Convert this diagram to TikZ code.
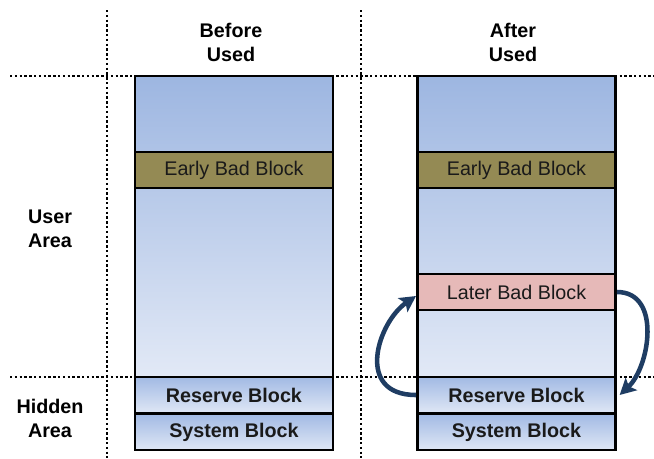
\documentclass[tikz,border=0pt]{standalone}
\usepackage{fontspec}
\setmainfont{Liberation Sans}
\usetikzlibrary{arrows.meta}

\definecolor{inkline}{HTML}{000000}
\definecolor{txt}{HTML}{1A1A1A}
\definecolor{colTop}{HTML}{9DB6E1}
\definecolor{colBot}{HTML}{E2E9F6}
\definecolor{hidTop}{HTML}{A2BAE4}
\definecolor{hidBot}{HTML}{DFE7F5}
\definecolor{earlyFill}{HTML}{948A54}
\definecolor{laterFill}{HTML}{E6B9B8}
\definecolor{arrowNavy}{HTML}{1F3D63}

\begin{document}
\begin{tikzpicture}[x=0.75pt,y=-0.75pt,
  font=\fontsize{14.8}{18}\selectfont,
  divider/.style={line width=1.9pt, dash pattern=on 1.8pt off 1.8pt, black},
  colbox/.style={draw=inkline, line width=2.2pt, inner sep=0pt,
    minimum width=148.5pt, minimum height=225.75pt,
    top color=colTop, bottom color=colBot},
  badbox/.style={draw=inkline, line width=2.2pt, inner sep=0pt,
    minimum width=148.5pt, minimum height=27pt, text=txt},
  hidbox/.style={draw=inkline, line width=2.2pt, inner sep=0pt,
    minimum width=148.5pt, minimum height=27pt, text=txt,
    top color=hidTop, bottom color=hidBot, font=\fontsize{14.8}{18}\selectfont\bfseries},
  heading/.style={align=center, text=black, font=\fontsize{14.8}{18}\selectfont\bfseries},
  remap/.style={draw=arrowNavy, line width=3.4pt,
    -{Stealth[length=12pt,width=12.5pt,inset=2.5pt]}}
]
\useasboundingbox (0,0) rectangle (654,458);

% dotted area dividers
\draw[divider] (107,10) -- (107,458);
\draw[divider] (361,10) -- (361,458);
\draw[divider] (10,76) -- (654,76);
\draw[divider] (10,377) -- (654,377);

% column headings
\node[heading] (hBefore) at (231,42) {Before\\Used};
\node[heading] (hAfter) at (513,42) {After\\Used};

% row headings
\node[heading] (hUser) at (50,229) {User\\Area};
\node[heading] (hHidden) at (50,418) {Hidden\\Area};

% before-use column
\node[colbox] (userL) at (234,226.5) {};
\node[badbox, fill=earlyFill] (earlyL) at (234,170) {Early Bad Block};
\node[hidbox] (rsvL) at (234,395) {Reserve Block};
\node[hidbox] (sysL) at (234,432) {System Block};

% after-use column
\node[colbox] (userR) at (516.5,226.5) {};
\node[badbox, fill=earlyFill] (earlyR) at (516.5,170) {Early Bad Block};
\node[badbox, fill=laterFill] (laterR) at (516.5,292) {Later Bad Block};
\node[hidbox] (rsvR) at (516.5,395) {Reserve Block};
\node[hidbox] (sysR) at (516.5,432) {System Block};

% remapping arrows
\draw[remap] (rsvR.west) .. controls +(-62,0) and +(-38,26) .. ([yshift=-3]laterR.west);
\draw[remap] (laterR.east) .. controls +(45,0) and +(30,-28) .. ([xshift=2]rsvR.east);
\end{tikzpicture}
\end{document}
